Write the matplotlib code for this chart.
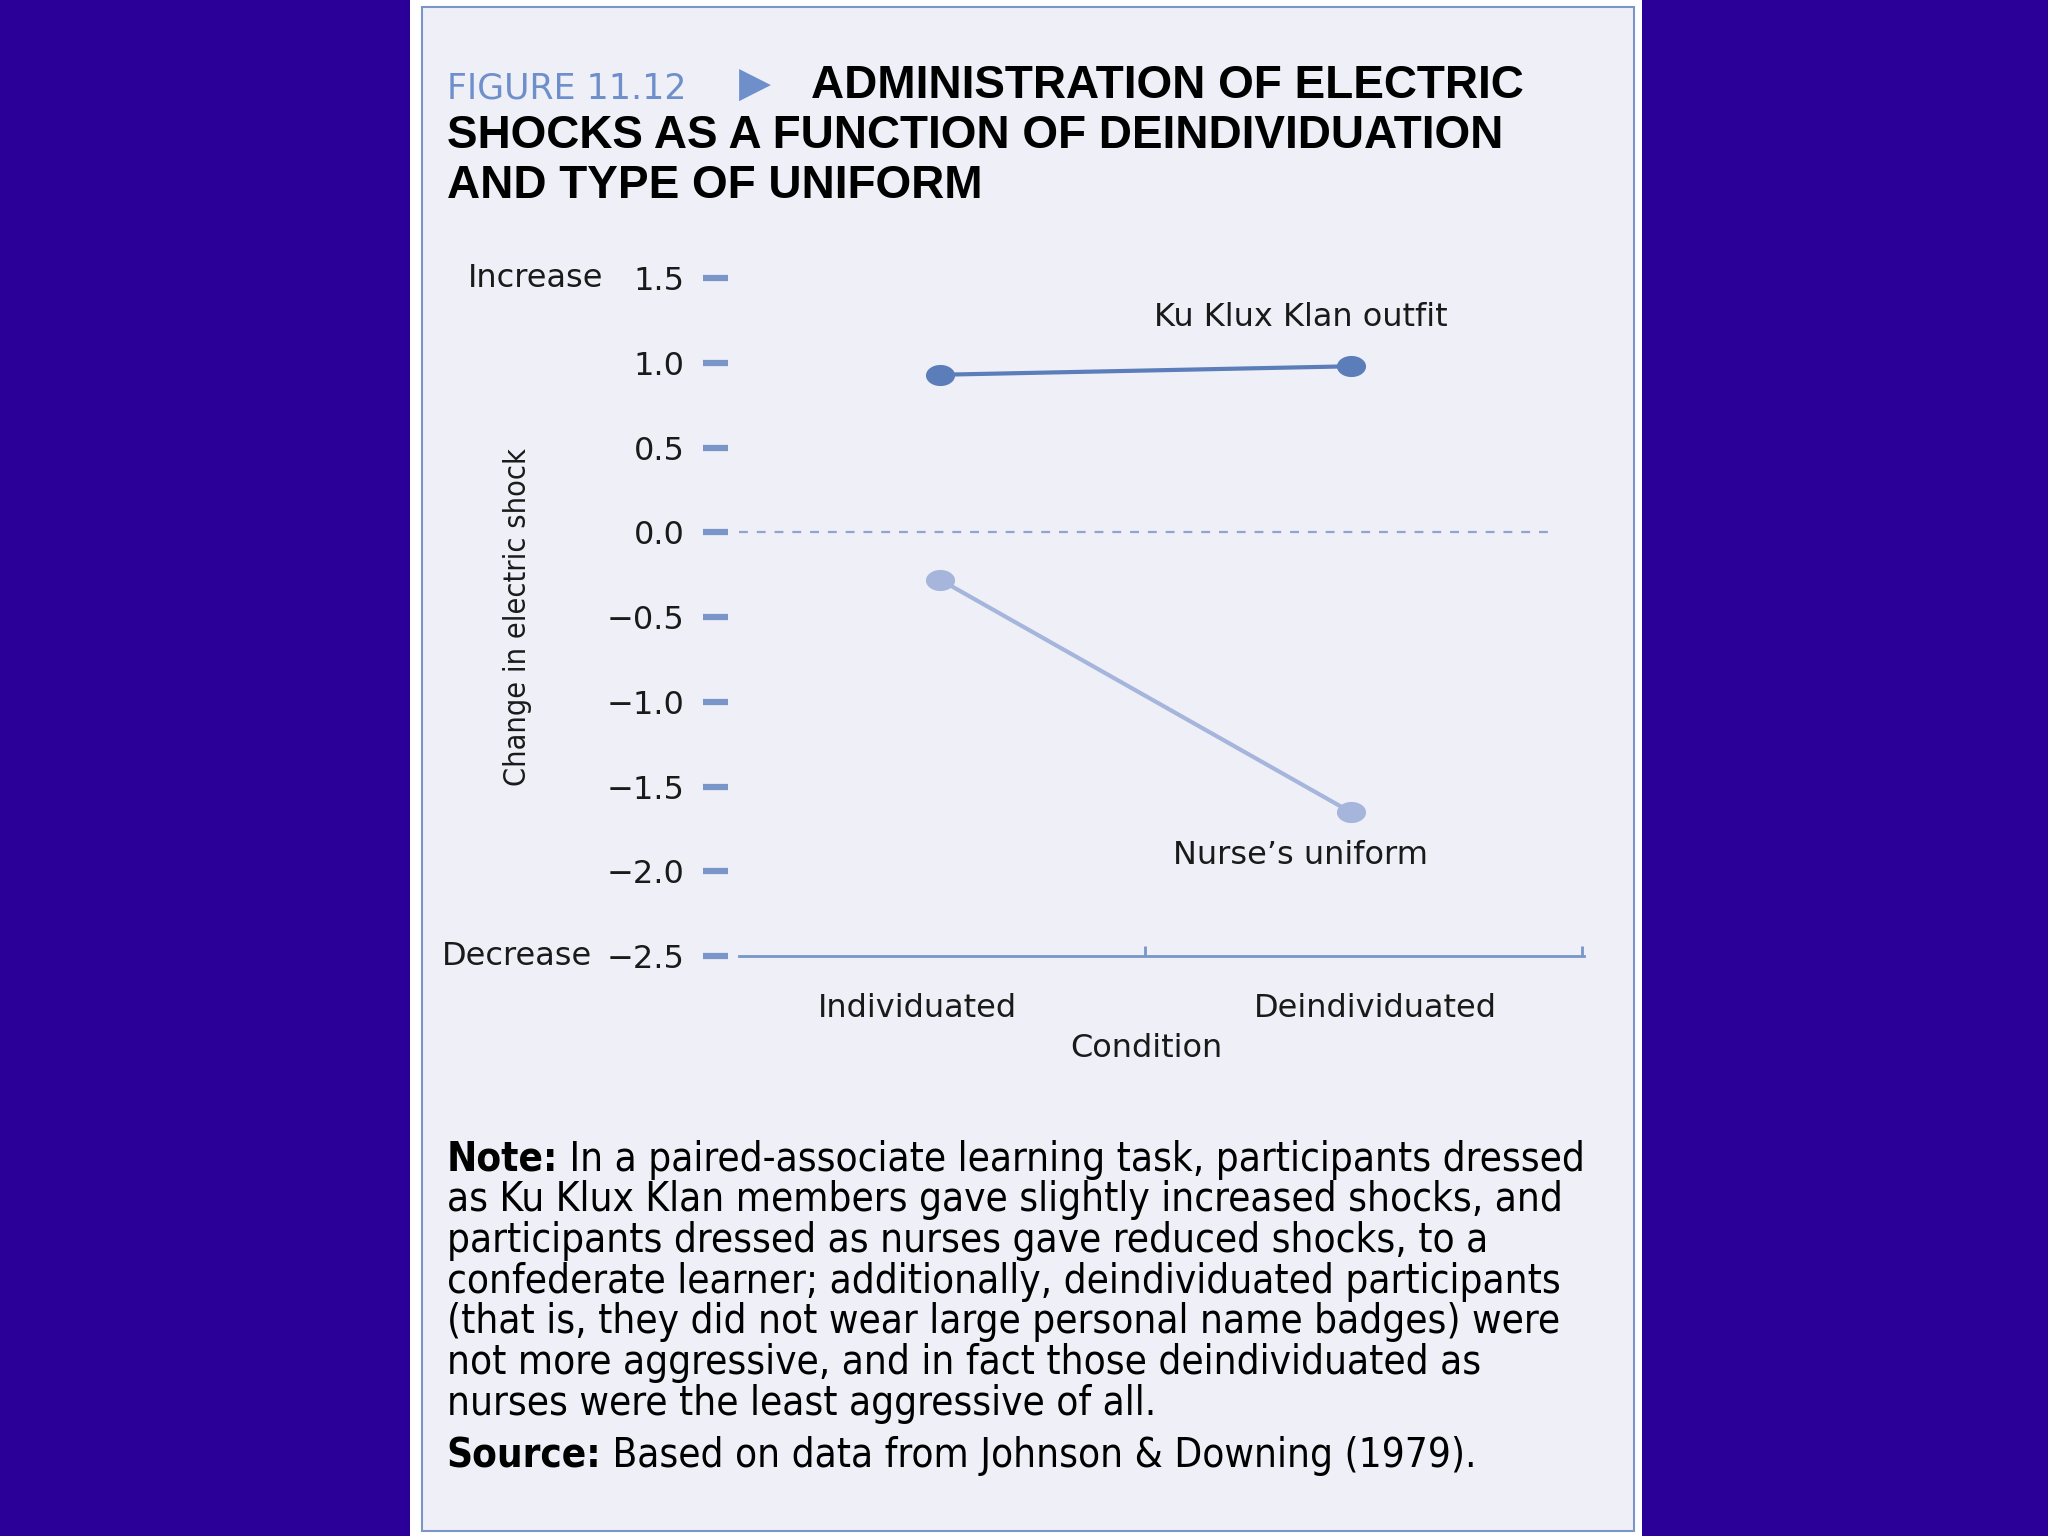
import matplotlib
matplotlib.use("Agg")
import matplotlib.pyplot as plt
import matplotlib.transforms as mtrans
import numpy as np
from matplotlib.patches import Rectangle
from matplotlib.path import Path

# data
conditions = ['Individuated', 'Deindividuated']
kkk_values = [0.93, 0.98]
nurse_values = [-0.28, -1.65]
y_ticks = [1.5, 1.0, 0.5, 0.0, -0.5, -1.0, -1.5, -2.0, -2.5]

title_lines = ["ADMINISTRATION OF ELECTRIC",
               "SHOCKS AS A FUNCTION OF DEINDIVIDUATION",
               "AND TYPE OF UNIFORM"]
note_first = " In a paired-associate learning task, participants dressed"
note_rest = ["as Ku Klux Klan members gave slightly increased shocks, and",
             "participants dressed as nurses gave reduced shocks, to a",
             "confederate learner; additionally, deindividuated participants",
             "(that is, they did not wear large personal name badges) were",
             "not more aggressive, and in fact those deindividuated as",
             "nurses were the least aggressive of all."]
source_text = " Based on data from Johnson & Downing (1979)."

bg_dark = '#2A0098'
panel_bg = '#EFF0F7'
border = '#7C95C9'
kkk_col = '#5B7DB9'
nurse_col = '#A5B5DB'
axis_col = '#7A96C8'
fig_blue = '#6F8FCB'
txt_col = '#1A1A1A'

cond = dict(family='DejaVu Sans', fontstretch='condensed')

fig = plt.figure(figsize=(20.48, 15.36), dpi=100)
fig.patch.set_facecolor(bg_dark)

# white strip and panel
fig.patches.append(Rectangle((0.2003, 0), 0.6014, 1, transform=fig.transFigure,
                             facecolor='white', edgecolor='none', zorder=-5))
fig.patches.append(Rectangle((0.206, 0.0034), 0.5918, 0.9923, transform=fig.transFigure,
                             facecolor=panel_bg, edgecolor=border, linewidth=1.5, zorder=-4))

# title
fig.text(0.2181, 0.9425, "FIGURE 11.12", color=fig_blue, fontsize=25,
         family='DejaVu Sans', va='center', ha='left')
fig.text(0.3686, 0.9448, "\u25B6", color=fig_blue, fontsize=30,
         family='DejaVu Sans', va='center', ha='center')
title_y = [0.9438, 0.9115, 0.8792]
title_x = [0.396, 0.2181, 0.2181]
for tx, ty, line in zip(title_x, title_y, title_lines):
    fig.text(tx, ty, line, fontsize=33, fontweight='bold', family='Liberation Sans',
             va='center', ha='left', color='black')

# chart
ax = fig.add_axes([0.361, 0.3776, 0.4126, 0.4413])
ax.set_facecolor('none')
x = np.arange(len(conditions))
xlo, xhi = -0.49, 1.57

ax.hlines(0, xlo, 1.5, colors='#8FA4D0', linestyles=(0, (4, 4)), linewidth=1.6, zorder=1)

ell = np.linspace(0, 2 * np.pi, 40)
ellipse_marker = Path(np.column_stack([1.38 * np.cos(ell), np.sin(ell)]), closed=True)

ax.plot(x, kkk_values, color=kkk_col, linewidth=3, marker=ellipse_marker,
        markersize=21, markeredgewidth=0, zorder=3)
ax.plot(x, nurse_values, color=nurse_col, linewidth=3, marker=ellipse_marker,
        markersize=21, markeredgewidth=0, zorder=3)

ax.text(0.879, 1.27, "Ku Klux Klan outfit", fontsize=23, family='DejaVu Sans',
        ha='center', va='center', color=txt_col)
ax.text(0.879, -1.906, "Nurse\u2019s uniform", fontsize=23, family='DejaVu Sans',
        ha='center', va='center', color=txt_col)

ax.set_xlim(xlo, xhi)
ax.set_ylim(-2.5, 1.5)

for s in ['top', 'right', 'left']:
    ax.spines[s].set_visible(False)
ax.spines['bottom'].set_color(axis_col)
ax.spines['bottom'].set_linewidth(2)

ax.set_yticks(y_ticks)
ax.set_yticklabels([f"{v:.1f}".replace('-', '\u2212') for v in y_ticks])
ax.tick_params(axis='y', direction='out', length=18, width=4.5, color=axis_col,
               pad=13, labelsize=23, labelcolor=txt_col)
ax.spines['left'].set_position(('outward', 8.5))

ax.set_xticks([0.5, 1.565])
ax.set_xticklabels(['', ''])
ax.tick_params(axis='x', direction='in', length=7, width=2, color=axis_col)

below = ax.transData + mtrans.ScaledTranslation(0, -0.52, fig.dpi_scale_trans)
label_x = [-0.055, 1.06]
for lx, lab in zip(label_x, conditions):
    ax.text(lx, -2.5, lab, transform=below, fontsize=23, family='DejaVu Sans',
            ha='center', va='center', color=txt_col)

ax.text(0.503, -2.5, "Condition", fontsize=23, family='DejaVu Sans', ha='center', va='center',
        color=txt_col,
        transform=ax.transData + mtrans.ScaledTranslation(0, -0.92, fig.dpi_scale_trans))

ax.text(-0.321, 1.0, "Increase", transform=ax.transAxes, fontsize=23, family='DejaVu Sans',
        ha='left', va='center', color=txt_col)
ax.text(-0.352, 0.0, "Decrease", transform=ax.transAxes, fontsize=23, family='DejaVu Sans',
        ha='left', va='center', color=txt_col)

ax.set_ylabel("Change in electric shock", fontsize=22, color=txt_col, **cond)
ax.yaxis.set_label_coords(-0.245, 0.5)

# note
fig.canvas.draw()
renderer = fig.canvas.get_renderer()
note_y = 0.2449
step = 0.02645
nsize = 29
nb = fig.text(0.2181, note_y, "Note:", fontsize=nsize, fontweight='bold',
              va='center', ha='left', color='black', **cond)
bb = nb.get_window_extent(renderer).transformed(fig.transFigure.inverted())
fig.text(bb.x1, note_y, note_first, fontsize=nsize, va='center', ha='left',
         color='black', **cond)
for i, line in enumerate(note_rest):
    fig.text(0.2181, note_y - step * (i + 1), line, fontsize=nsize, va='center',
             ha='left', color='black', **cond)

sy = 0.0519
sb = fig.text(0.2181, sy, "Source:", fontsize=nsize, fontweight='bold',
              va='center', ha='left', color='black', **cond)
bb2 = sb.get_window_extent(renderer).transformed(fig.transFigure.inverted())
fig.text(bb2.x1, sy, source_text, fontsize=nsize, va='center', ha='left',
         color='black', **cond)

fig.savefig("out.png", dpi=100, facecolor=fig.get_facecolor())
